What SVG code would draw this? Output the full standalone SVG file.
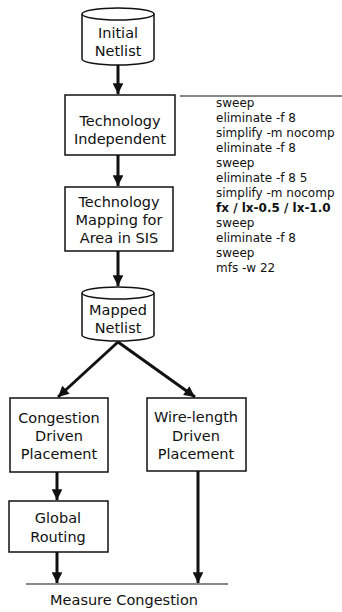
<svg xmlns="http://www.w3.org/2000/svg" width="342" height="612" viewBox="0 0 342 612">
<defs>
<style>
.shape{fill:#fff;stroke:#111;stroke-width:1.5}
.lbl{font-family:"DejaVu Sans",sans-serif;font-size:14.5px;fill:#111;text-anchor:middle}
.cmd{font-family:"DejaVu Sans",sans-serif;font-size:12px;fill:#111}
.conn{stroke:#111;stroke-width:3;fill:none}
.thin{stroke:#111;stroke-width:1.2;fill:none}
</style>
<marker id="ah" viewBox="0 0 10 10" refX="10" refY="5" markerWidth="4" markerHeight="3.6" orient="auto" markerUnits="strokeWidth">
<path d="M0,0 L10,5 L0,10 z" fill="#111"/>
</marker>
</defs>
<rect width="342" height="612" fill="#fff"/>
<g id="connectors">
<line class="conn" x1="118" y1="65" x2="118" y2="94" marker-end="url(#ah)"/>
<line class="conn" x1="118" y1="155" x2="118" y2="186" marker-end="url(#ah)"/>
<line class="conn" x1="118" y1="251" x2="118" y2="286" marker-end="url(#ah)"/>
<line class="conn" x1="118" y1="342" x2="58" y2="397" marker-end="url(#ah)"/>
<line class="conn" x1="118" y1="342" x2="195" y2="397" marker-end="url(#ah)"/>
<line class="conn" x1="57" y1="472" x2="57" y2="500" marker-end="url(#ah)"/>
<line class="conn" x1="57" y1="552" x2="57" y2="583" marker-end="url(#ah)"/>
<line class="conn" x1="198" y1="471" x2="198" y2="583" marker-end="url(#ah)"/>
<line class="thin" x1="26" y1="584" x2="228" y2="584"/>
<line class="thin" x1="180" y1="96" x2="342" y2="96"/>
</g>
<g id="initial-netlist">
<path class="shape" d="M82,14 L82,59 A36,6 0 0 0 154,59 L154,14"/>
<ellipse class="shape" cx="118" cy="14" rx="36" ry="6"/>
<text class="lbl" x="118" y="38">Initial</text>
<text class="lbl" x="118" y="56">Netlist</text>
</g>
<g id="tech-independent">
<rect class="shape" x="65" y="95" width="110" height="60"/>
<text class="lbl" x="120" y="126">Technology</text>
<text class="lbl" x="120" y="144">Independent</text>
</g>
<g id="tech-mapping">
<rect class="shape" x="65" y="187" width="108" height="64"/>
<text class="lbl" x="119" y="207">Technology</text>
<text class="lbl" x="119" y="225">Mapping for</text>
<text class="lbl" x="119" y="243">Area in SIS</text>
</g>
<g id="script">
<text class="cmd" x="216" y="107">sweep</text>
<text class="cmd" x="216" y="122">eliminate -f 8</text>
<text class="cmd" x="216" y="137">simplify -m nocomp</text>
<text class="cmd" x="216" y="152">eliminate -f 8</text>
<text class="cmd" x="216" y="167">sweep</text>
<text class="cmd" x="216" y="182">eliminate -f 8 5</text>
<text class="cmd" x="216" y="197">simplify -m nocomp</text>
<text class="cmd" x="216" y="212" font-weight="bold">fx / lx-0.5 / lx-1.0</text>
<text class="cmd" x="216" y="227">sweep</text>
<text class="cmd" x="216" y="242">eliminate -f 8</text>
<text class="cmd" x="216" y="257">sweep</text>
<text class="cmd" x="216" y="272">mfs -w 22</text>
</g>
<g id="mapped-netlist">
<path class="shape" d="M82,293 L82,335 A36,6 0 0 0 154,335 L154,293"/>
<ellipse class="shape" cx="118" cy="293" rx="36" ry="6"/>
<text class="lbl" x="118" y="315">Mapped</text>
<text class="lbl" x="118" y="333">Netlist</text>
</g>
<g id="congestion-placement">
<rect class="shape" x="10" y="398" width="98" height="74"/>
<text class="lbl" x="59" y="423">Congestion</text>
<text class="lbl" x="59" y="441">Driven</text>
<text class="lbl" x="59" y="459">Placement</text>
</g>
<g id="wirelength-placement">
<rect class="shape" x="147" y="398" width="99" height="73"/>
<text class="lbl" x="196" y="422">Wire-length</text>
<text class="lbl" x="196" y="441">Driven</text>
<text class="lbl" x="196" y="459">Placement</text>
</g>
<g id="global-routing">
<rect class="shape" x="9" y="501" width="99" height="51"/>
<text class="lbl" x="58" y="523">Global</text>
<text class="lbl" x="58" y="542">Routing</text>
</g>
<g id="measure-congestion">
<text class="lbl" x="124" y="605">Measure Congestion</text>
</g>
</svg>
